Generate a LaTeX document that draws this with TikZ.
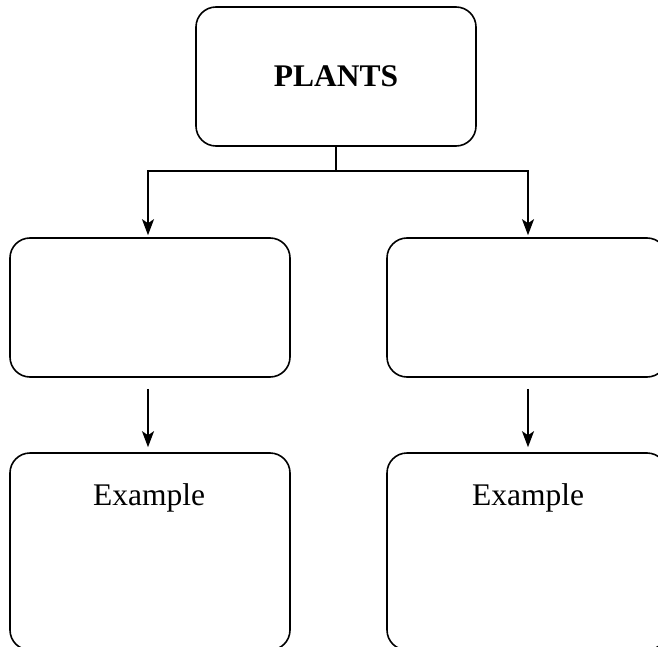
\documentclass[tikz,border=0pt]{standalone}
\usepackage{fontspec}
\setmainfont{Liberation Serif}
\usetikzlibrary{arrows.meta}
\begin{document}
\begin{tikzpicture}[x=1pt,y=-1pt,
  box/.style={draw, rounded corners=20pt, line width=1.6pt, minimum width=280pt, inner sep=0pt},
  txt/.style={font=\fontsize{31.5}{36}\selectfont, inner sep=0pt},
  conn/.style={line width=1.6pt},
  arr/.style={line width=1.6pt, -{Stealth[length=16pt, width=12pt, inset=4pt]}}]
\useasboundingbox (0,0) rectangle (658,647);
\clip (0,0) rectangle (658,647);
\node[box, minimum height=139pt, txt] (top) at (336,76.5) {\bfseries PLANTS};
\node[box, minimum height=139pt] (ml) at (150,307.5) {};
\node[box, minimum height=139pt] (mr) at (527,307.5) {};
\node[box, minimum height=197pt] (bl) at (150,551.5) {};
\node[box, minimum height=197pt] (br) at (527,551.5) {};
\node[txt, anchor=base] (e1) at (149,505) {Example};
\node[txt, anchor=base] (e2) at (528,505) {Example};
\coordinate (j) at (336,171);
\draw[conn] (top.south) -- (j);
\draw[arr, shorten >=2pt] (j) -| ([xshift=-2pt]ml.north);
\draw[arr, shorten >=2pt] (j) -| ([xshift=1pt]mr.north);
\draw[arr, shorten <=11pt, shorten >=5pt] ([xshift=-2pt]ml.south) -- ([xshift=-2pt]bl.north);
\draw[arr, shorten <=11pt, shorten >=5pt] ([xshift=1pt]mr.south) -- ([xshift=1pt]br.north);
\end{tikzpicture}
\end{document}
